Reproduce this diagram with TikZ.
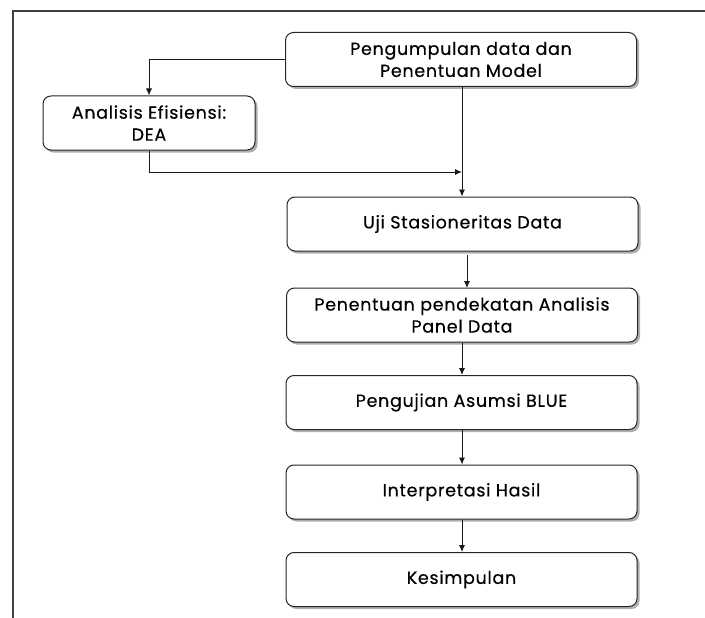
\documentclass[tikz,border=0pt]{standalone}
\usepackage{fontspec}
\setmainfont{Poppins}[Ligatures=NoCommon, LetterSpace=4, FakeBold=0.4]
\usetikzlibrary{arrows.meta,shadows,calc}
\begin{document}
\begin{tikzpicture}[x=1pt,y=-1pt,
  box/.style={draw=black!85, line width=1pt, rounded corners=8pt, fill=white,
    drop shadow={shadow xshift=2.5pt, shadow yshift=-2.5pt, fill=black!45, opacity=0.7},
    minimum width=351pt, minimum height=54pt, align=center, inner sep=2pt,
    font=\fontsize{17.5}{22}\selectfont},
  conn/.style={line width=0.9pt, black!90, -{Latex[length=7pt,width=6pt]}}
]
\useasboundingbox (0,0) rectangle (705,618);
\draw[line width=1.3pt, black!75] (705,11) -- (13,11) -- (13,618);

\node[box] (b1) at (461,59.5) {Pengumpulan data dan\\Penentuan Model};
\node[box, minimum width=212pt] (b2) at (149,123) {Analisis Efisiensi:\\DEA};
\node[box] (b3) at (462.5,224) {Uji Stasioneritas Data};
\node[box] (b4) at (462,315) {Penentuan pendekatan Analisis\\Panel Data};
\node[box] (b5) at (461.5,402.5) {Pengujian Asumsi BLUE};
\node[box] (b6) at (461.5,492) {Interpretasi Hasil};
\node[box] (b7) at (461.5,579.5) {Kesimpulan};

\coordinate (m) at (462,172);
\coordinate (s3) at (467,255);
\coordinate (e4) at (467,288);

\draw[conn] (b1.west) -| (b2.north);
\draw[conn] (b1.south -| m) -- (b3.north -| m);
\draw[conn] (b2.south) |- (m);
\draw[conn] (s3) -- (e4);
\draw[conn] (b4.south -| m) -- (b5.north -| m);
\draw[conn] (b5.south -| m) -- (b6.north -| m);
\draw[conn] (b6.south -| m) -- (b7.north -| m);
\end{tikzpicture}
\end{document}
